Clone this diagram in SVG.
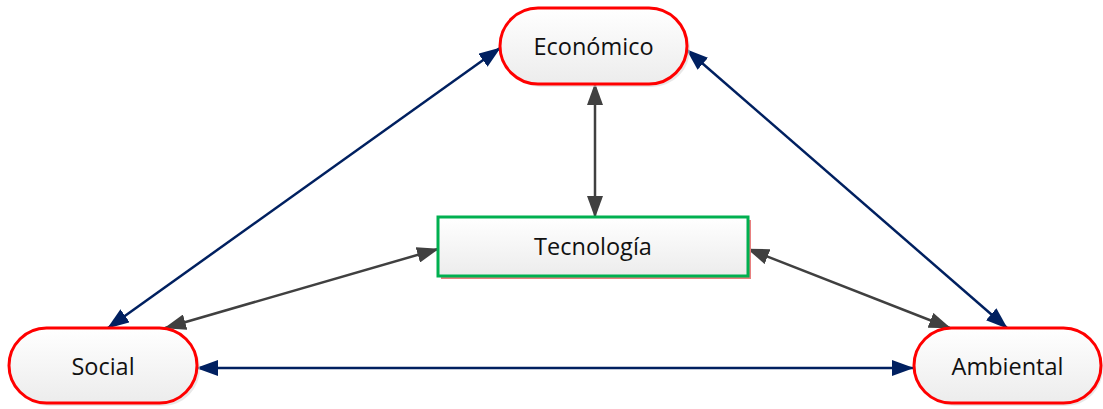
<svg xmlns="http://www.w3.org/2000/svg" width="1103" height="409" viewBox="0 0 1103 409">
<defs>
<linearGradient id="g" x1="0" y1="0" x2="0" y2="1">
<stop offset="0" stop-color="#ffffff"/>
<stop offset="1" stop-color="#ececec"/>
</linearGradient>
<marker id="an" viewBox="0 0 22 16" refX="21" refY="8" markerWidth="22" markerHeight="16" markerUnits="userSpaceOnUse" orient="auto-start-reverse">
<path d="M0,0 L22,8 L0,16 Z" fill="#002060"/>
</marker>
<marker id="ag" viewBox="0 0 22 16" refX="21" refY="8" markerWidth="22" markerHeight="16" markerUnits="userSpaceOnUse" orient="auto-start-reverse">
<path d="M0,0 L22,8 L0,16 Z" fill="#404040"/>
</marker>
</defs>
<style>
.pill{fill:url(#g);stroke:#ff0000;stroke-width:3}
.sh{fill:#d8d8d8;opacity:0.6}
.lbl{font-family:"Open Sans","Liberation Sans",sans-serif;font-size:23.5px;fill:#111;text-anchor:middle;dominant-baseline:central}
.cn{fill:none;stroke:#002060;stroke-width:2.5;marker-start:url(#an);marker-end:url(#an)}
.cg{fill:none;stroke:#404040;stroke-width:2.5;marker-start:url(#ag);marker-end:url(#ag)}
</style>
<rect width="1103" height="409" fill="#ffffff"/>
<g id="connectors">
<line class="cn" x1="500" y1="48" x2="108" y2="328"/>
<line class="cn" x1="687" y1="50" x2="1007" y2="328"/>
<line class="cn" x1="197" y1="368" x2="913" y2="368"/>
<line class="cg" x1="595" y1="84" x2="595" y2="217"/>
<line class="cg" x1="438" y1="249" x2="165" y2="328"/>
<line class="cg" x1="748" y1="249" x2="950" y2="328"/>
</g>
<g id="economico">
<rect class="sh" x="503" y="11" width="187" height="76" rx="38"/>
<rect class="pill" x="500" y="8" width="187" height="76" rx="38"/>
<text class="lbl" x="593.5" y="46">Económico</text>
</g>
<g id="tecnologia">
<rect x="441" y="220" width="310" height="59" fill="#e88080"/>
<rect x="438" y="217" width="310" height="59" fill="url(#g)" stroke="#00b050" stroke-width="3"/>
<text class="lbl" x="593" y="246">Tecnología</text>
</g>
<g id="social">
<rect class="sh" x="12" y="331" width="188" height="75" rx="37.5"/>
<rect class="pill" x="9" y="328" width="188" height="75" rx="37.5"/>
<text class="lbl" x="103" y="366">Social</text>
</g>
<g id="ambiental">
<rect class="sh" x="917" y="331" width="186" height="75" rx="37.5"/>
<rect class="pill" x="914" y="328" width="187" height="75" rx="37.5"/>
<text class="lbl" x="1007.5" y="366">Ambiental</text>
</g>
</svg>
